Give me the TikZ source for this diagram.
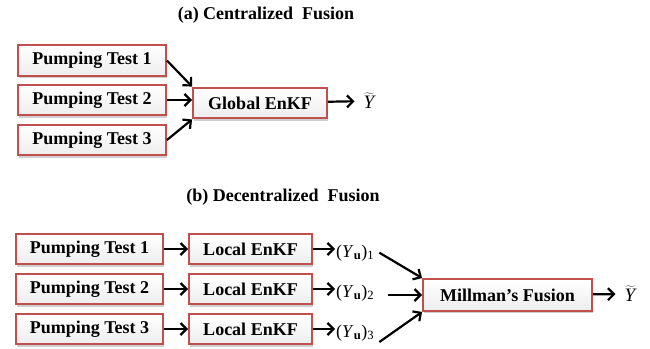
\documentclass[tikz,border=0pt]{standalone}
\usepackage{fontspec}
\setmainfont{Liberation Serif}
\usetikzlibrary{arrows.meta,shadows}
\definecolor{boxred}{RGB}{192,80,77}
\begin{document}
\begin{tikzpicture}[x=1pt,y=-1pt,
    every node/.style={font=\fontsize{18}{20}\selectfont},
    blk/.style={draw=boxred,line width=2.4pt,top color=white,bottom color=gray!14,
      drop shadow={shadow xshift=1pt,shadow yshift=-2.5pt,fill=gray!75},
      minimum height=30.5pt,inner sep=0pt,font=\fontsize{18}{20}\selectfont\bfseries},
    tld/.style={inner xsep=9pt,font=\fontsize{19}{20}\selectfont},
    arr/.style={-{Straight Barb[length=6pt,width=12pt]},line width=2.2pt}]
    \useasboundingbox (0,0) rectangle (650,348);
    \node (ttla) at (266,15) {\bfseries (a) Centralized\ \ Fusion};
    \foreach \i/\y in {1/60.5,2/100,3/140}
        \node[blk,minimum width=147.5pt] (pa\i) at (92,\y) {Pumping Test \i};
    \node[blk,minimum width=133.5pt] (glob) at (260,103) {Global EnKF};
    \node[tld] (ya) at (369,101) {$\widetilde{\textit{Y}}$};
    \draw[arr] (pa1.east) -- (glob.north west);
    \draw[arr] (pa2) -- (glob.west |- pa2);
    \draw[arr] (pa3.east) -- (glob.south west);
    \draw[arr] (glob) -- (ya);

    \node (ttlb) at (283,197) {\bfseries (b) Decentralized\ \ Fusion};
    \foreach \i/\y in {1/249,2/289,3/329}{
        \node[blk,minimum width=146.5pt] (pb\i) at (89.5,\y) {Pumping Test \i};
        \node[blk,minimum width=122.5pt] (lb\i) at (250.5,\y) {Local EnKF};
        \node[anchor=base west,inner sep=1pt] (yu\i) at (335,\y+8)
            {(\textit{Y}\textsubscript{\textbf{u}})\textsubscript{\i}};
        \draw[arr] (pb\i) -- (lb\i);
        \draw[arr] (lb\i) -- (lb\i -| yu\i.west);
    }
    \node[blk,minimum width=168.5pt,minimum height=31.5pt] (mill) at (507.5,295) {Millman's Fusion};
    \node[tld] (yb) at (630,294) {$\widetilde{\textit{Y}}$};
    \draw[arr] ([xshift=4pt]yu1.east) -- (mill.north west);
    \draw[arr,shorten <=13pt] (mill.west -| yu2.east) -- (mill.west);
    \draw[arr] ([xshift=4pt]yu3.south east) -- (mill.south west);
    \draw[arr] (mill) -- (yb);
\end{tikzpicture}
\end{document}
